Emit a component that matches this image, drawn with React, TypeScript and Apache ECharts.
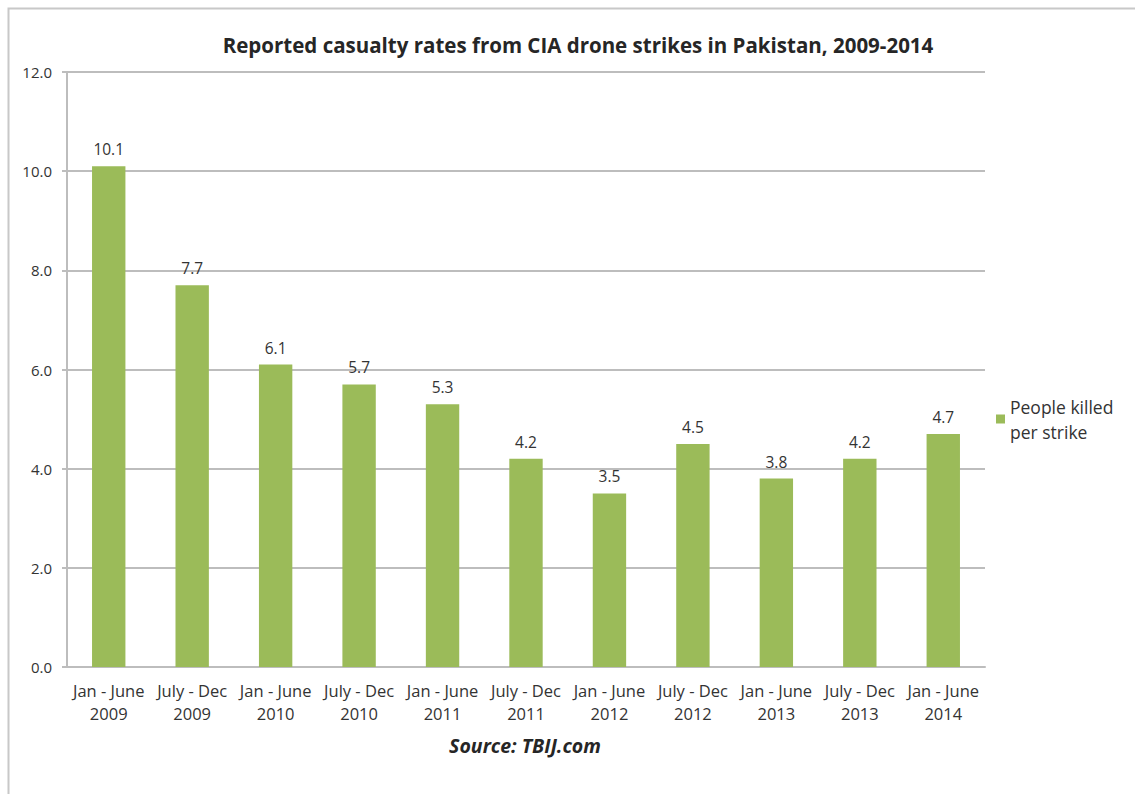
import React, { useEffect, useRef } from "react";
import * as echarts from "echarts";

const categories = [
  "Jan - June\n2009", "July - Dec\n2009", "Jan - June\n2010", "July - Dec\n2010",
  "Jan - June\n2011", "July - Dec\n2011", "Jan - June\n2012", "July - Dec\n2012",
  "Jan - June\n2013", "July - Dec\n2013", "Jan - June\n2014",
];
const killedPerStrike = [10.1, 7.7, 6.1, 5.7, 5.3, 4.2, 3.5, 4.5, 3.8, 4.2, 4.7];
const seriesName = "People killed\nper strike";
const titleText = "Reported casualty rates from CIA drone strikes in Pakistan, 2009-2014";
const sourceText = "Source: TBIJ.com";

const FONT = "'Open Sans', 'Noto Sans', sans-serif";

export default function App() {
  const ref = useRef<HTMLDivElement>(null);
  useEffect(() => {
    if (!ref.current) return;
    const chart = echarts.init(ref.current, null, { renderer: "svg" });
    chart.setOption({
      animation: false,
      backgroundColor: "#ffffff",
      title: {
        text: titleText,
        left: 573,
        textAlign: "center",
        top: 29,
        textStyle: { fontFamily: FONT, fontSize: 20.5, fontWeight: "bold", color: "#262626" },
      },
      legend: {
        show: true,
        left: 991,
        top: 389,
        orient: "vertical",
        icon: "rect",
        itemWidth: 9,
        itemHeight: 9,
        itemGap: 6,
        textStyle: { fontFamily: FONT, fontSize: 17.5, color: "#333", lineHeight: 25 },
        data: [seriesName],
      },
      grid: { left: 67, right: 150, top: 72, bottom: 127 },
      xAxis: {
        type: "category",
        data: categories,
        axisLine: { lineStyle: { color: "#bdbdbd", width: 2 } },
        axisTick: { show: false },
        axisLabel: { fontFamily: FONT, fontSize: 16.5, color: "#333", lineHeight: 23, margin: 12, interval: 0 },
      },
      yAxis: {
        type: "value",
        min: 0,
        max: 12,
        interval: 2,
        axisLine: { show: true, lineStyle: { color: "#bdbdbd", width: 2 } },
        axisTick: { show: true, length: 5, lineStyle: { color: "#bdbdbd", width: 2 } },
        splitLine: { lineStyle: { color: "#bdbdbd", width: 2 } },
        axisLabel: {
          fontFamily: FONT, fontSize: 15, color: "#333", margin: 15,
          formatter: (v: number) => v.toFixed(1),
        },
      },
      series: [
        {
          name: seriesName,
          type: "bar",
          data: killedPerStrike,
          barWidth: "40%",
          itemStyle: { color: "#9bbb59" },
          label: {
            show: true,
            position: "top",
            distance: 9,
            fontFamily: FONT,
            fontSize: 15.5,
            color: "#333",
            formatter: (p: any) => Number(p.value).toFixed(1),
          },
        },
      ],
      graphic: [
        {
          type: "rect",
          shape: { x: 8.5, y: 8.5, width: 1140, height: 800 },
          style: { fill: "none", stroke: "#c8c8c8", lineWidth: 2 },
          silent: true,
        },
        {
          type: "text",
          x: 525,
          y: 745,
          style: {
            text: sourceText,
            fontFamily: FONT,
            fontSize: 19.5,
            fontWeight: "bold",
            fontStyle: "italic",
            fill: "#262626",
            textAlign: "center",
            textVerticalAlign: "middle",
          },
        },
      ],
    });
    return () => chart.dispose();
  }, []);
  return (
    <div
      ref={ref}
      style={{ position: "absolute", left: 0, top: 0, width: 1135, height: 794 }}
    />
  );
}
